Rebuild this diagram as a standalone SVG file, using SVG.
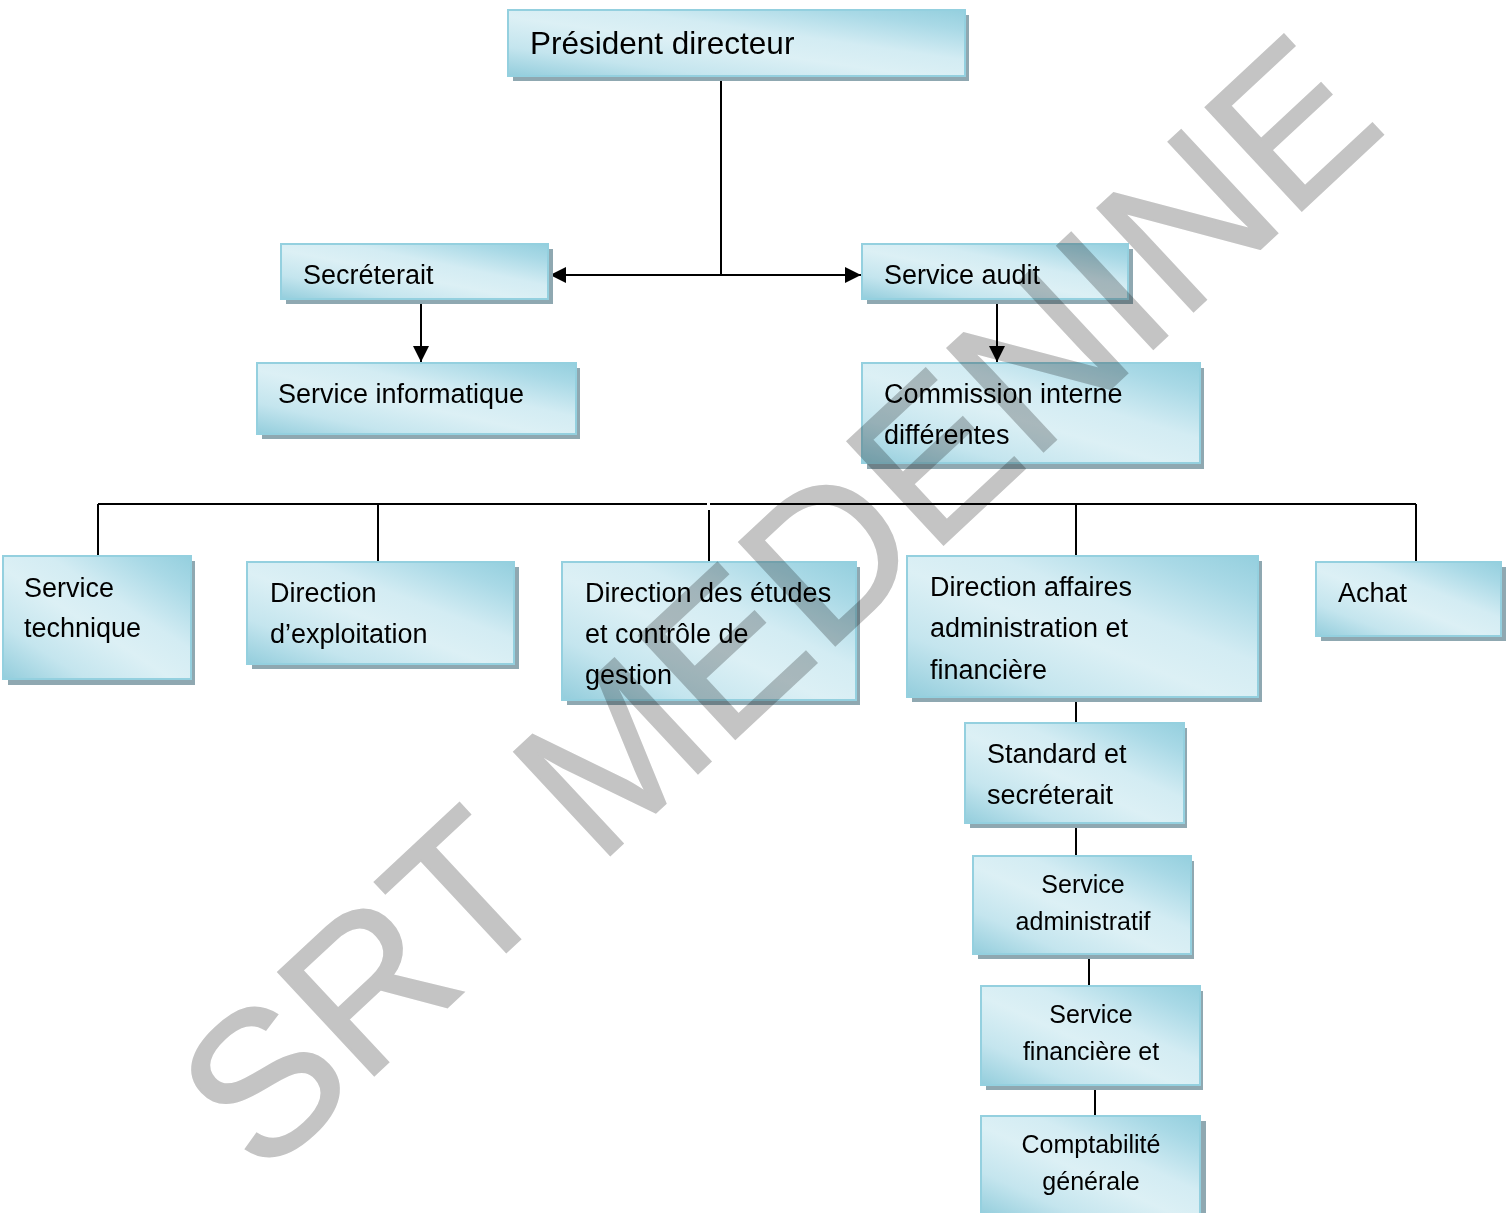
<svg xmlns="http://www.w3.org/2000/svg" width="1510" height="1213" viewBox="0 0 1510 1213">
<defs>
<linearGradient id="fillg" x1="0" y1="1" x2="1" y2="0">
<stop offset="0" stop-color="#93cddc"/>
<stop offset="0.22" stop-color="#c4e5ee"/>
<stop offset="0.45" stop-color="#dcf0f5"/>
<stop offset="0.62" stop-color="#d3ecf3"/>
<stop offset="0.85" stop-color="#a9d9e6"/>
<stop offset="1" stop-color="#94cfde"/>
</linearGradient>
<marker id="arr" markerUnits="userSpaceOnUse" markerWidth="18" markerHeight="16" refX="16" refY="8" orient="auto">
<path d="M0,0 L16,8 L0,16 Z" fill="#000"/>
</marker>
</defs>
<style>
.shadow{fill:#8fa8b1}
.box{fill:url(#fillg);stroke:#94d0df;stroke-width:2}
.t{font-family:"Liberation Sans",Arial,sans-serif;font-size:27px;fill:#000}
.s{font-size:25px;text-anchor:middle}
.p{font-size:31.5px}
.c{fill:none;stroke:#000;stroke-width:2}
.wm{font-family:"Liberation Sans",Arial,sans-serif;font-size:205px;fill:#c4c4c4;stroke:#c4c4c4;stroke-width:2}
</style>
<rect width="1510" height="1213" fill="#fff"/>

<g id="connectors">
<path class="c" d="M721,77 V275"/>
<path class="c" d="M721,275 H550" marker-end="url(#arr)"/>
<path class="c" d="M721,275 H861" marker-end="url(#arr)"/>
<path class="c" d="M421,300 V362" marker-end="url(#arr)"/>
<path class="c" d="M997,300 V362" marker-end="url(#arr)"/>
<path class="c" d="M98,504 H707 M710,504 H1416"/>
<path class="c" d="M98,504 V556 M378,504 V562 M709,510 V562 M1076,504 V556 M1416,504 V562"/>
<path class="c" d="M1076,697 V723 M1076,824 V856 M1089,955 V986 M1095,1086 V1116"/>
</g>

<g id="n-president">
<rect class="shadow" x="513" y="15" width="456" height="66"/>
<rect class="box" x="508" y="10" width="457" height="66"/>
<text class="t p" x="530" y="54">Président directeur</text>
</g>
<g id="n-secreterait">
<rect class="shadow" x="286" y="249" width="267" height="55"/>
<rect class="box" x="281" y="244" width="267" height="55"/>
<text class="t" x="303" y="284">Secréterait</text>
</g>
<g id="n-audit">
<rect class="shadow" x="867" y="249" width="266" height="55"/>
<rect class="box" x="862" y="244" width="266" height="55"/>
<text class="t" x="884" y="284">Service audit</text>
</g>
<g id="n-informatique">
<rect class="shadow" x="262" y="368" width="318" height="71"/>
<rect class="box" x="257" y="363" width="319" height="71"/>
<text class="t" x="278" y="403">Service informatique</text>
</g>
<g id="n-commission">
<rect class="shadow" x="867" y="368" width="337" height="101"/>
<rect class="box" x="862" y="363" width="338" height="100"/>
<text class="t" x="884" y="403">Commission interne</text>
<text class="t" x="884" y="444">différentes</text>
</g>
<g id="n-technique">
<rect class="shadow" x="8" y="561" width="187" height="124"/>
<rect class="box" x="3" y="556" width="188" height="123"/>
<text class="t" x="24" y="597">Service</text>
<text class="t" x="24" y="637">technique</text>
</g>
<g id="n-exploitation">
<rect class="shadow" x="252" y="567" width="267" height="102"/>
<rect class="box" x="247" y="562" width="267" height="102"/>
<text class="t" x="270" y="602">Direction</text>
<text class="t" x="270" y="643">d’exploitation</text>
</g>
<g id="n-etudes">
<rect class="shadow" x="567" y="567" width="293" height="138"/>
<rect class="box" x="562" y="562" width="294" height="138"/>
<text class="t" x="585" y="602">Direction des études</text>
<text class="t" x="585" y="643">et contrôle de</text>
<text class="t" x="585" y="684">gestion</text>
</g>
<g id="n-affaires">
<rect class="shadow" x="912" y="561" width="350" height="141"/>
<rect class="box" x="907" y="556" width="351" height="141"/>
<text class="t" x="930" y="596">Direction affaires</text>
<text class="t" x="930" y="637">administration et</text>
<text class="t" x="930" y="679">financière</text>
</g>
<g id="n-achat">
<rect class="shadow" x="1321" y="567" width="185" height="74"/>
<rect class="box" x="1316" y="562" width="185" height="74"/>
<text class="t" x="1338" y="602">Achat</text>
</g>
<g id="n-standard">
<rect class="shadow" x="970" y="728" width="217" height="100"/>
<rect class="box" x="965" y="723" width="219" height="100"/>
<text class="t" x="987" y="763">Standard et</text>
<text class="t" x="987" y="804">secréterait</text>
</g>
<g id="n-administratif">
<rect class="shadow" x="978" y="861" width="216" height="98"/>
<rect class="box" x="973" y="856" width="218" height="98"/>
<text class="t s" x="1083" y="893">Service</text>
<text class="t s" x="1083" y="930">administratif</text>
</g>
<g id="n-financiere">
<rect class="shadow" x="986" y="991" width="217" height="99"/>
<rect class="box" x="981" y="986" width="219" height="99"/>
<text class="t s" x="1091" y="1023">Service</text>
<text class="t s" x="1091" y="1060">financière et</text>
</g>
<g id="n-comptabilite">
<rect class="shadow" x="986" y="1121" width="220" height="100"/>
<rect class="box" x="981" y="1116" width="219" height="100"/>
<text class="t s" x="1091" y="1153">Comptabilité</text>
<text class="t s" x="1091" y="1190">générale</text>
</g>

<g id="watermark" style="mix-blend-mode:multiply">
<text class="wm" transform="translate(262,1180) rotate(-43)">SRT MEDENINE</text>
</g>
</svg>
